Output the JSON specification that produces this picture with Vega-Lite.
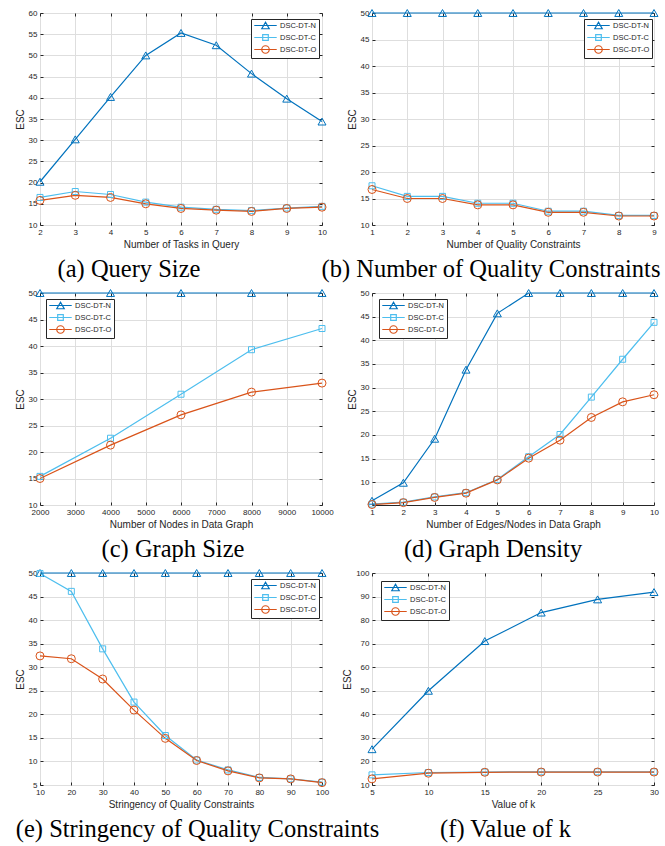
{
  "$schema": "https://vega.github.io/schema/vega-lite/v6.json",
  "padding": {"left": 14, "top": 7, "right": 5, "bottom": 2},
  "background": "white",
  "config": {
    "view": {"stroke": "#262626", "strokeWidth": 1},
    "font": "Liberation Sans",
    "axis": {"labelFont": "Liberation Sans", "labelFontSize": 8, "labelColor": "#262626", "titleFont": "Liberation Sans", "titleFontSize": 10, "titleFontWeight": "normal", "titleColor": "#262626", "gridColor": "#dedede", "gridWidth": 1, "domain": false, "tickColor": "#262626", "tickSize": -3, "labelPadding": 6, "titlePadding": 3, "labelFlush": false, "labelOverlap": false},
    "legend": {"orient": "none", "direction": "vertical", "labelFont": "Liberation Sans", "labelFontSize": 7.5, "labelColor": "#262626", "symbolSize": 56, "symbolStrokeWidth": 1, "rowPadding": 0, "padding": 2, "symbolOffset": 8, "labelOffset": 10},
    "title": {"orient": "bottom", "font": "Liberation Serif", "fontSize": 24.5, "fontWeight": "normal", "color": "#000000", "anchor": "middle", "offset": 9},
    "line": {"strokeWidth": 1.2},
    "point": {"filled": false, "size": 64, "strokeWidth": 1, "opacity": 1}
  },
  "columns": 2,
  "spacing": {"row": 68, "column": 50},
  "bounds": "flush",
  "resolve": {"scale": {"shape": "independent", "stroke": "independent"}, "legend": {"shape": "independent", "stroke": "independent"}},
  "concat": [
    {
      "width": 282, "height": 212,
      "title": {"text": "(a) Query Size", "dx": -52},
      "resolve": {"axis": {"x": "independent", "y": "independent"}},
      "data": {"values": [
        {"x": 2, "y": 20.2, "m": "DSC-DT-N"}, {"x": 3, "y": 30.2, "m": "DSC-DT-N"}, {"x": 4, "y": 40.2, "m": "DSC-DT-N"}, {"x": 5, "y": 50.0, "m": "DSC-DT-N"}, {"x": 6, "y": 55.3, "m": "DSC-DT-N"}, {"x": 7, "y": 52.4, "m": "DSC-DT-N"}, {"x": 8, "y": 45.7, "m": "DSC-DT-N"}, {"x": 9, "y": 39.8, "m": "DSC-DT-N"}, {"x": 10, "y": 34.4, "m": "DSC-DT-N"},
        {"x": 2, "y": 16.5, "m": "DSC-DT-C"}, {"x": 3, "y": 17.9, "m": "DSC-DT-C"}, {"x": 4, "y": 17.2, "m": "DSC-DT-C"}, {"x": 5, "y": 15.4, "m": "DSC-DT-C"}, {"x": 6, "y": 14.2, "m": "DSC-DT-C"}, {"x": 7, "y": 13.7, "m": "DSC-DT-C"}, {"x": 8, "y": 13.4, "m": "DSC-DT-C"}, {"x": 9, "y": 14.0, "m": "DSC-DT-C"}, {"x": 10, "y": 14.4, "m": "DSC-DT-C"},
        {"x": 2, "y": 15.8, "m": "DSC-DT-O"}, {"x": 3, "y": 17.0, "m": "DSC-DT-O"}, {"x": 4, "y": 16.5, "m": "DSC-DT-O"}, {"x": 5, "y": 15.0, "m": "DSC-DT-O"}, {"x": 6, "y": 13.9, "m": "DSC-DT-O"}, {"x": 7, "y": 13.5, "m": "DSC-DT-O"}, {"x": 8, "y": 13.2, "m": "DSC-DT-O"}, {"x": 9, "y": 13.9, "m": "DSC-DT-O"}, {"x": 10, "y": 14.2, "m": "DSC-DT-O"}
      ]},
      "encoding": {
        "x": {"field": "x", "type": "quantitative", "scale": {"domain": [2, 10], "nice": false}, "axis": {"values": [2, 3, 4, 5, 6, 7, 8, 9, 10], "title": "Number of Tasks in Query"}},
        "y": {"field": "y", "type": "quantitative", "scale": {"domain": [10, 60], "nice": false}, "axis": {"values": [10, 15, 20, 25, 30, 35, 40, 45, 50, 55, 60], "title": "ESC"}}
      },
      "layer": [
        {"mark": {"type": "line"}, "encoding": {"stroke": {"field": "m", "type": "nominal", "scale": {"domain": ["DSC-DT-N", "DSC-DT-C", "DSC-DT-O"], "range": ["#0072BD", "#4DBEEE", "#D95319"]}, "legend": {"title": null, "legendX": 211, "legendY": 6, "strokeColor": "#262626", "fillColor": "white", "rowPadding": 0}}}},
        {"transform": [{"filter": {"field": "m", "equal": "DSC-DT-N"}}], "mark": {"type": "point", "shape": "triangle-up", "color": "#0072BD"}, "encoding": {"x": {"field": "x", "type": "quantitative", "axis": null}, "y": {"field": "y", "type": "quantitative", "axis": null}}},
        {"transform": [{"filter": {"field": "m", "equal": "DSC-DT-C"}}], "mark": {"type": "point", "shape": "M-0.75,-0.75H0.75V0.75H-0.75Z", "color": "#4DBEEE"}, "encoding": {"x": {"field": "x", "type": "quantitative", "axis": null}, "y": {"field": "y", "type": "quantitative", "axis": null}}},
        {"transform": [{"filter": {"field": "m", "equal": "DSC-DT-O"}}], "mark": {"type": "point", "shape": "circle", "color": "#D95319"}, "encoding": {"x": {"field": "x", "type": "quantitative", "axis": null}, "y": {"field": "y", "type": "quantitative", "axis": null}}},
        {"data": {"values": []}, "mark": {"type": "point"}, "encoding": {
          "x": {"field": "x", "type": "quantitative", "axis": {"orient": "top", "labels": false, "title": null, "grid": false, "values": [2, 3, 4, 5, 6, 7, 8, 9, 10]}},
          "y": {"field": "y", "type": "quantitative", "axis": {"orient": "right", "labels": false, "title": null, "grid": false, "values": [10, 15, 20, 25, 30, 35, 40, 45, 50, 55, 60]}},
          "stroke": {"field": "m", "type": "nominal", "scale": {"domain": ["DSC-DT-N", "DSC-DT-C", "DSC-DT-O"], "range": ["#0072BD", "#4DBEEE", "#D95319"]}, "legend": {"title": null, "legendX": 211, "legendY": 6, "strokeColor": "#262626", "fillColor": "white", "rowPadding": 0}},
          "shape": {"field": "m", "type": "nominal", "scale": {"domain": ["DSC-DT-N", "DSC-DT-C", "DSC-DT-O"], "range": ["M-3,0H3M0,-0.87L-1,0.87L1,0.87Z", "M-3,0H3M-0.75,-0.75H0.75V0.75H-0.75Z", "M-3,0H3M1,0A1,1,0,1,1,-1,0A1,1,0,1,1,1,0Z"]}, "legend": {"title": null, "legendX": 211, "legendY": 6, "strokeColor": "#262626", "fillColor": "white", "rowPadding": 0}}
        }}
      ]
    },
    {
      "width": 282, "height": 212,
      "title": {"text": "(b) Number of Quality Constraints", "dx": -22},
      "resolve": {"axis": {"x": "independent", "y": "independent"}},
      "data": {"values": [
        {"x": 1, "y": 50, "m": "DSC-DT-N"}, {"x": 2, "y": 50, "m": "DSC-DT-N"}, {"x": 3, "y": 50, "m": "DSC-DT-N"}, {"x": 4, "y": 50, "m": "DSC-DT-N"}, {"x": 5, "y": 50, "m": "DSC-DT-N"}, {"x": 6, "y": 50, "m": "DSC-DT-N"}, {"x": 7, "y": 50, "m": "DSC-DT-N"}, {"x": 8, "y": 50, "m": "DSC-DT-N"}, {"x": 9, "y": 50, "m": "DSC-DT-N"},
        {"x": 1, "y": 17.4, "m": "DSC-DT-C"}, {"x": 2, "y": 15.4, "m": "DSC-DT-C"}, {"x": 3, "y": 15.4, "m": "DSC-DT-C"}, {"x": 4, "y": 14.1, "m": "DSC-DT-C"}, {"x": 5, "y": 14.1, "m": "DSC-DT-C"}, {"x": 6, "y": 12.6, "m": "DSC-DT-C"}, {"x": 7, "y": 12.6, "m": "DSC-DT-C"}, {"x": 8, "y": 11.8, "m": "DSC-DT-C"}, {"x": 9, "y": 11.8, "m": "DSC-DT-C"},
        {"x": 1, "y": 16.7, "m": "DSC-DT-O"}, {"x": 2, "y": 15.0, "m": "DSC-DT-O"}, {"x": 3, "y": 15.0, "m": "DSC-DT-O"}, {"x": 4, "y": 13.8, "m": "DSC-DT-O"}, {"x": 5, "y": 13.8, "m": "DSC-DT-O"}, {"x": 6, "y": 12.4, "m": "DSC-DT-O"}, {"x": 7, "y": 12.4, "m": "DSC-DT-O"}, {"x": 8, "y": 11.7, "m": "DSC-DT-O"}, {"x": 9, "y": 11.7, "m": "DSC-DT-O"}
      ]},
      "encoding": {
        "x": {"field": "x", "type": "quantitative", "scale": {"domain": [1, 9], "nice": false}, "axis": {"values": [1, 2, 3, 4, 5, 6, 7, 8, 9], "title": "Number of Quality Constraints"}},
        "y": {"field": "y", "type": "quantitative", "scale": {"domain": [10, 50], "nice": false}, "axis": {"values": [10, 15, 20, 25, 30, 35, 40, 45, 50], "title": "ESC"}}
      },
      "layer": [
        {"mark": {"type": "line"}, "encoding": {"stroke": {"field": "m", "type": "nominal", "scale": {"domain": ["DSC-DT-N", "DSC-DT-C", "DSC-DT-O"], "range": ["#0072BD", "#4DBEEE", "#D95319"]}, "legend": {"title": null, "legendX": 212, "legendY": 6, "strokeColor": "#262626", "fillColor": "white", "rowPadding": 0}}}},
        {"transform": [{"filter": {"field": "m", "equal": "DSC-DT-N"}}], "mark": {"type": "point", "shape": "triangle-up", "color": "#0072BD"}, "encoding": {"x": {"field": "x", "type": "quantitative", "axis": null}, "y": {"field": "y", "type": "quantitative", "axis": null}}},
        {"transform": [{"filter": {"field": "m", "equal": "DSC-DT-C"}}], "mark": {"type": "point", "shape": "M-0.75,-0.75H0.75V0.75H-0.75Z", "color": "#4DBEEE"}, "encoding": {"x": {"field": "x", "type": "quantitative", "axis": null}, "y": {"field": "y", "type": "quantitative", "axis": null}}},
        {"transform": [{"filter": {"field": "m", "equal": "DSC-DT-O"}}], "mark": {"type": "point", "shape": "circle", "color": "#D95319"}, "encoding": {"x": {"field": "x", "type": "quantitative", "axis": null}, "y": {"field": "y", "type": "quantitative", "axis": null}}},
        {"data": {"values": []}, "mark": {"type": "point"}, "encoding": {
          "x": {"field": "x", "type": "quantitative", "axis": {"orient": "top", "labels": false, "title": null, "grid": false, "values": [1, 2, 3, 4, 5, 6, 7, 8, 9]}},
          "y": {"field": "y", "type": "quantitative", "axis": {"orient": "right", "labels": false, "title": null, "grid": false, "values": [10, 15, 20, 25, 30, 35, 40, 45, 50]}},
          "stroke": {"field": "m", "type": "nominal", "scale": {"domain": ["DSC-DT-N", "DSC-DT-C", "DSC-DT-O"], "range": ["#0072BD", "#4DBEEE", "#D95319"]}, "legend": {"title": null, "legendX": 212, "legendY": 6, "strokeColor": "#262626", "fillColor": "white", "rowPadding": 0}},
          "shape": {"field": "m", "type": "nominal", "scale": {"domain": ["DSC-DT-N", "DSC-DT-C", "DSC-DT-O"], "range": ["M-3,0H3M0,-0.87L-1,0.87L1,0.87Z", "M-3,0H3M-0.75,-0.75H0.75V0.75H-0.75Z", "M-3,0H3M1,0A1,1,0,1,1,-1,0A1,1,0,1,1,1,0Z"]}, "legend": {"title": null, "legendX": 212, "legendY": 6, "strokeColor": "#262626", "fillColor": "white", "rowPadding": 0}}
        }}
      ]
    },
    {
      "width": 282, "height": 212,
      "title": {"text": "(c) Graph Size", "dx": -8},
      "resolve": {"axis": {"x": "independent", "y": "independent"}},
      "data": {"values": [
        {"x": 2000, "y": 50, "m": "DSC-DT-N"}, {"x": 4000, "y": 50, "m": "DSC-DT-N"}, {"x": 6000, "y": 50, "m": "DSC-DT-N"}, {"x": 8000, "y": 50, "m": "DSC-DT-N"}, {"x": 10000, "y": 50, "m": "DSC-DT-N"},
        {"x": 2000, "y": 15.4, "m": "DSC-DT-C"}, {"x": 4000, "y": 22.6, "m": "DSC-DT-C"}, {"x": 6000, "y": 30.9, "m": "DSC-DT-C"}, {"x": 8000, "y": 39.3, "m": "DSC-DT-C"}, {"x": 10000, "y": 43.3, "m": "DSC-DT-C"},
        {"x": 2000, "y": 15.0, "m": "DSC-DT-O"}, {"x": 4000, "y": 21.3, "m": "DSC-DT-O"}, {"x": 6000, "y": 27.0, "m": "DSC-DT-O"}, {"x": 8000, "y": 31.3, "m": "DSC-DT-O"}, {"x": 10000, "y": 33.0, "m": "DSC-DT-O"}
      ]},
      "encoding": {
        "x": {"field": "x", "type": "quantitative", "scale": {"domain": [2000, 10000], "nice": false}, "axis": {"values": [2000, 3000, 4000, 5000, 6000, 7000, 8000, 9000, 10000], "format": "d", "title": "Number of Nodes in Data Graph"}},
        "y": {"field": "y", "type": "quantitative", "scale": {"domain": [10, 50], "nice": false}, "axis": {"values": [10, 15, 20, 25, 30, 35, 40, 45, 50], "title": "ESC"}}
      },
      "layer": [
        {"mark": {"type": "line"}, "encoding": {"stroke": {"field": "m", "type": "nominal", "scale": {"domain": ["DSC-DT-N", "DSC-DT-C", "DSC-DT-O"], "range": ["#0072BD", "#4DBEEE", "#D95319"]}, "legend": {"title": null, "legendX": 6, "legendY": 6, "strokeColor": "#262626", "fillColor": "white", "rowPadding": 0}}}},
        {"transform": [{"filter": {"field": "m", "equal": "DSC-DT-N"}}], "mark": {"type": "point", "shape": "triangle-up", "color": "#0072BD"}, "encoding": {"x": {"field": "x", "type": "quantitative", "axis": null}, "y": {"field": "y", "type": "quantitative", "axis": null}}},
        {"transform": [{"filter": {"field": "m", "equal": "DSC-DT-C"}}], "mark": {"type": "point", "shape": "M-0.75,-0.75H0.75V0.75H-0.75Z", "color": "#4DBEEE"}, "encoding": {"x": {"field": "x", "type": "quantitative", "axis": null}, "y": {"field": "y", "type": "quantitative", "axis": null}}},
        {"transform": [{"filter": {"field": "m", "equal": "DSC-DT-O"}}], "mark": {"type": "point", "shape": "circle", "color": "#D95319"}, "encoding": {"x": {"field": "x", "type": "quantitative", "axis": null}, "y": {"field": "y", "type": "quantitative", "axis": null}}},
        {"data": {"values": []}, "mark": {"type": "point"}, "encoding": {
          "x": {"field": "x", "type": "quantitative", "axis": {"orient": "top", "labels": false, "title": null, "grid": false, "values": [2000, 3000, 4000, 5000, 6000, 7000, 8000, 9000, 10000]}},
          "y": {"field": "y", "type": "quantitative", "axis": {"orient": "right", "labels": false, "title": null, "grid": false, "values": [10, 15, 20, 25, 30, 35, 40, 45, 50]}},
          "stroke": {"field": "m", "type": "nominal", "scale": {"domain": ["DSC-DT-N", "DSC-DT-C", "DSC-DT-O"], "range": ["#0072BD", "#4DBEEE", "#D95319"]}, "legend": {"title": null, "legendX": 6, "legendY": 6, "strokeColor": "#262626", "fillColor": "white", "rowPadding": 0}},
          "shape": {"field": "m", "type": "nominal", "scale": {"domain": ["DSC-DT-N", "DSC-DT-C", "DSC-DT-O"], "range": ["M-3,0H3M0,-0.87L-1,0.87L1,0.87Z", "M-3,0H3M-0.75,-0.75H0.75V0.75H-0.75Z", "M-3,0H3M1,0A1,1,0,1,1,-1,0A1,1,0,1,1,1,0Z"]}, "legend": {"title": null, "legendX": 6, "legendY": 6, "strokeColor": "#262626", "fillColor": "white", "rowPadding": 0}}
        }}
      ]
    },
    {
      "width": 282, "height": 212,
      "title": {"text": "(d) Graph Density", "dx": -20},
      "resolve": {"axis": {"x": "independent", "y": "independent"}},
      "data": {"values": [
        {"x": 1, "y": 6.1, "m": "DSC-DT-N"}, {"x": 2, "y": 9.9, "m": "DSC-DT-N"}, {"x": 3, "y": 19.2, "m": "DSC-DT-N"}, {"x": 4, "y": 33.8, "m": "DSC-DT-N"}, {"x": 5, "y": 45.7, "m": "DSC-DT-N"}, {"x": 6, "y": 50, "m": "DSC-DT-N"}, {"x": 7, "y": 50, "m": "DSC-DT-N"}, {"x": 8, "y": 50, "m": "DSC-DT-N"}, {"x": 9, "y": 50, "m": "DSC-DT-N"}, {"x": 10, "y": 50, "m": "DSC-DT-N"},
        {"x": 1, "y": 5.4, "m": "DSC-DT-C"}, {"x": 2, "y": 5.8, "m": "DSC-DT-C"}, {"x": 3, "y": 6.9, "m": "DSC-DT-C"}, {"x": 4, "y": 7.8, "m": "DSC-DT-C"}, {"x": 5, "y": 10.6, "m": "DSC-DT-C"}, {"x": 6, "y": 15.4, "m": "DSC-DT-C"}, {"x": 7, "y": 20.1, "m": "DSC-DT-C"}, {"x": 8, "y": 28.0, "m": "DSC-DT-C"}, {"x": 9, "y": 36.0, "m": "DSC-DT-C"}, {"x": 10, "y": 43.8, "m": "DSC-DT-C"},
        {"x": 1, "y": 5.3, "m": "DSC-DT-O"}, {"x": 2, "y": 5.7, "m": "DSC-DT-O"}, {"x": 3, "y": 6.8, "m": "DSC-DT-O"}, {"x": 4, "y": 7.7, "m": "DSC-DT-O"}, {"x": 5, "y": 10.5, "m": "DSC-DT-O"}, {"x": 6, "y": 15.1, "m": "DSC-DT-O"}, {"x": 7, "y": 18.9, "m": "DSC-DT-O"}, {"x": 8, "y": 23.7, "m": "DSC-DT-O"}, {"x": 9, "y": 27.0, "m": "DSC-DT-O"}, {"x": 10, "y": 28.5, "m": "DSC-DT-O"}
      ]},
      "encoding": {
        "x": {"field": "x", "type": "quantitative", "scale": {"domain": [1, 10], "nice": false}, "axis": {"values": [1, 2, 3, 4, 5, 6, 7, 8, 9, 10], "title": "Number of Edges/Nodes in Data Graph"}},
        "y": {"field": "y", "type": "quantitative", "scale": {"domain": [5.2, 50], "nice": false, "zero": false}, "axis": {"values": [10, 15, 20, 25, 30, 35, 40, 45, 50], "title": "ESC"}}
      },
      "layer": [
        {"mark": {"type": "line"}, "encoding": {"stroke": {"field": "m", "type": "nominal", "scale": {"domain": ["DSC-DT-N", "DSC-DT-C", "DSC-DT-O"], "range": ["#0072BD", "#4DBEEE", "#D95319"]}, "legend": {"title": null, "legendX": 7, "legendY": 6, "strokeColor": "#262626", "fillColor": "white", "rowPadding": 0}}}},
        {"transform": [{"filter": {"field": "m", "equal": "DSC-DT-N"}}], "mark": {"type": "point", "shape": "triangle-up", "color": "#0072BD"}, "encoding": {"x": {"field": "x", "type": "quantitative", "axis": null}, "y": {"field": "y", "type": "quantitative", "axis": null}}},
        {"transform": [{"filter": {"field": "m", "equal": "DSC-DT-C"}}], "mark": {"type": "point", "shape": "M-0.75,-0.75H0.75V0.75H-0.75Z", "color": "#4DBEEE"}, "encoding": {"x": {"field": "x", "type": "quantitative", "axis": null}, "y": {"field": "y", "type": "quantitative", "axis": null}}},
        {"transform": [{"filter": {"field": "m", "equal": "DSC-DT-O"}}], "mark": {"type": "point", "shape": "circle", "color": "#D95319"}, "encoding": {"x": {"field": "x", "type": "quantitative", "axis": null}, "y": {"field": "y", "type": "quantitative", "axis": null}}},
        {"data": {"values": []}, "mark": {"type": "point"}, "encoding": {
          "x": {"field": "x", "type": "quantitative", "axis": {"orient": "top", "labels": false, "title": null, "grid": false, "values": [1, 2, 3, 4, 5, 6, 7, 8, 9, 10]}},
          "y": {"field": "y", "type": "quantitative", "axis": {"orient": "right", "labels": false, "title": null, "grid": false, "values": [10, 15, 20, 25, 30, 35, 40, 45, 50]}},
          "stroke": {"field": "m", "type": "nominal", "scale": {"domain": ["DSC-DT-N", "DSC-DT-C", "DSC-DT-O"], "range": ["#0072BD", "#4DBEEE", "#D95319"]}, "legend": {"title": null, "legendX": 7, "legendY": 6, "strokeColor": "#262626", "fillColor": "white", "rowPadding": 0}},
          "shape": {"field": "m", "type": "nominal", "scale": {"domain": ["DSC-DT-N", "DSC-DT-C", "DSC-DT-O"], "range": ["M-3,0H3M0,-0.87L-1,0.87L1,0.87Z", "M-3,0H3M-0.75,-0.75H0.75V0.75H-0.75Z", "M-3,0H3M1,0A1,1,0,1,1,-1,0A1,1,0,1,1,1,0Z"]}, "legend": {"title": null, "legendX": 7, "legendY": 6, "strokeColor": "#262626", "fillColor": "white", "rowPadding": 0}}
        }}
      ]
    },
    {
      "width": 282, "height": 212,
      "title": {"text": "(e) Stringency of Quality Constraints", "dx": 16.5},
      "resolve": {"axis": {"x": "independent", "y": "independent"}},
      "data": {"values": [
        {"x": 10, "y": 50, "m": "DSC-DT-N"}, {"x": 20, "y": 50, "m": "DSC-DT-N"}, {"x": 30, "y": 50, "m": "DSC-DT-N"}, {"x": 40, "y": 50, "m": "DSC-DT-N"}, {"x": 50, "y": 50, "m": "DSC-DT-N"}, {"x": 60, "y": 50, "m": "DSC-DT-N"}, {"x": 70, "y": 50, "m": "DSC-DT-N"}, {"x": 80, "y": 50, "m": "DSC-DT-N"}, {"x": 90, "y": 50, "m": "DSC-DT-N"}, {"x": 100, "y": 50, "m": "DSC-DT-N"},
        {"x": 10, "y": 49.9, "m": "DSC-DT-C"}, {"x": 20, "y": 46.1, "m": "DSC-DT-C"}, {"x": 30, "y": 33.9, "m": "DSC-DT-C"}, {"x": 40, "y": 22.6, "m": "DSC-DT-C"}, {"x": 50, "y": 15.5, "m": "DSC-DT-C"}, {"x": 60, "y": 10.3, "m": "DSC-DT-C"}, {"x": 70, "y": 8.2, "m": "DSC-DT-C"}, {"x": 80, "y": 6.6, "m": "DSC-DT-C"}, {"x": 90, "y": 6.3, "m": "DSC-DT-C"}, {"x": 100, "y": 5.6, "m": "DSC-DT-C"},
        {"x": 10, "y": 32.4, "m": "DSC-DT-O"}, {"x": 20, "y": 31.8, "m": "DSC-DT-O"}, {"x": 30, "y": 27.5, "m": "DSC-DT-O"}, {"x": 40, "y": 20.9, "m": "DSC-DT-O"}, {"x": 50, "y": 14.9, "m": "DSC-DT-O"}, {"x": 60, "y": 10.2, "m": "DSC-DT-O"}, {"x": 70, "y": 8.0, "m": "DSC-DT-O"}, {"x": 80, "y": 6.5, "m": "DSC-DT-O"}, {"x": 90, "y": 6.3, "m": "DSC-DT-O"}, {"x": 100, "y": 5.5, "m": "DSC-DT-O"}
      ]},
      "encoding": {
        "x": {"field": "x", "type": "quantitative", "scale": {"domain": [10, 100], "nice": false}, "axis": {"values": [10, 20, 30, 40, 50, 60, 70, 80, 90, 100], "title": "Stringency of Quality Constraints"}},
        "y": {"field": "y", "type": "quantitative", "scale": {"domain": [5, 50], "nice": false, "zero": false}, "axis": {"values": [5, 10, 15, 20, 25, 30, 35, 40, 45, 50], "title": "ESC"}}
      },
      "layer": [
        {"mark": {"type": "line"}, "encoding": {"stroke": {"field": "m", "type": "nominal", "scale": {"domain": ["DSC-DT-N", "DSC-DT-C", "DSC-DT-O"], "range": ["#0072BD", "#4DBEEE", "#D95319"]}, "legend": {"title": null, "legendX": 211, "legendY": 6, "strokeColor": "#262626", "fillColor": "white", "rowPadding": 0}}}},
        {"transform": [{"filter": {"field": "m", "equal": "DSC-DT-N"}}], "mark": {"type": "point", "shape": "triangle-up", "color": "#0072BD"}, "encoding": {"x": {"field": "x", "type": "quantitative", "axis": null}, "y": {"field": "y", "type": "quantitative", "axis": null}}},
        {"transform": [{"filter": {"field": "m", "equal": "DSC-DT-C"}}], "mark": {"type": "point", "shape": "M-0.75,-0.75H0.75V0.75H-0.75Z", "color": "#4DBEEE"}, "encoding": {"x": {"field": "x", "type": "quantitative", "axis": null}, "y": {"field": "y", "type": "quantitative", "axis": null}}},
        {"transform": [{"filter": {"field": "m", "equal": "DSC-DT-O"}}], "mark": {"type": "point", "shape": "circle", "color": "#D95319"}, "encoding": {"x": {"field": "x", "type": "quantitative", "axis": null}, "y": {"field": "y", "type": "quantitative", "axis": null}}},
        {"data": {"values": []}, "mark": {"type": "point"}, "encoding": {
          "x": {"field": "x", "type": "quantitative", "axis": {"orient": "top", "labels": false, "title": null, "grid": false, "values": [10, 20, 30, 40, 50, 60, 70, 80, 90, 100]}},
          "y": {"field": "y", "type": "quantitative", "axis": {"orient": "right", "labels": false, "title": null, "grid": false, "values": [5, 10, 15, 20, 25, 30, 35, 40, 45, 50]}},
          "stroke": {"field": "m", "type": "nominal", "scale": {"domain": ["DSC-DT-N", "DSC-DT-C", "DSC-DT-O"], "range": ["#0072BD", "#4DBEEE", "#D95319"]}, "legend": {"title": null, "legendX": 211, "legendY": 6, "strokeColor": "#262626", "fillColor": "white", "rowPadding": 0}},
          "shape": {"field": "m", "type": "nominal", "scale": {"domain": ["DSC-DT-N", "DSC-DT-C", "DSC-DT-O"], "range": ["M-3,0H3M0,-0.87L-1,0.87L1,0.87Z", "M-3,0H3M-0.75,-0.75H0.75V0.75H-0.75Z", "M-3,0H3M1,0A1,1,0,1,1,-1,0A1,1,0,1,1,1,0Z"]}, "legend": {"title": null, "legendX": 211, "legendY": 6, "strokeColor": "#262626", "fillColor": "white", "rowPadding": 0}}
        }}
      ]
    },
    {
      "width": 282, "height": 212,
      "title": {"text": "(f) Value of k", "dx": -7.5},
      "resolve": {"axis": {"x": "independent", "y": "independent"}},
      "data": {"values": [
        {"x": 5, "y": 25.2, "m": "DSC-DT-N"}, {"x": 10, "y": 50.0, "m": "DSC-DT-N"}, {"x": 15, "y": 71.1, "m": "DSC-DT-N"}, {"x": 20, "y": 83.2, "m": "DSC-DT-N"}, {"x": 25, "y": 88.8, "m": "DSC-DT-N"}, {"x": 30, "y": 91.9, "m": "DSC-DT-N"},
        {"x": 5, "y": 14.3, "m": "DSC-DT-C"}, {"x": 10, "y": 15.3, "m": "DSC-DT-C"}, {"x": 15, "y": 15.5, "m": "DSC-DT-C"}, {"x": 20, "y": 15.6, "m": "DSC-DT-C"}, {"x": 25, "y": 15.6, "m": "DSC-DT-C"}, {"x": 30, "y": 15.6, "m": "DSC-DT-C"},
        {"x": 5, "y": 12.6, "m": "DSC-DT-O"}, {"x": 10, "y": 15.0, "m": "DSC-DT-O"}, {"x": 15, "y": 15.4, "m": "DSC-DT-O"}, {"x": 20, "y": 15.5, "m": "DSC-DT-O"}, {"x": 25, "y": 15.5, "m": "DSC-DT-O"}, {"x": 30, "y": 15.5, "m": "DSC-DT-O"}
      ]},
      "encoding": {
        "x": {"field": "x", "type": "quantitative", "scale": {"domain": [5, 30], "nice": false}, "axis": {"values": [5, 10, 15, 20, 25, 30], "title": "Value of k"}},
        "y": {"field": "y", "type": "quantitative", "scale": {"domain": [10, 100], "nice": false, "zero": false}, "axis": {"values": [10, 20, 30, 40, 50, 60, 70, 80, 90, 100], "title": "ESC"}}
      },
      "layer": [
        {"mark": {"type": "line"}, "encoding": {"stroke": {"field": "m", "type": "nominal", "scale": {"domain": ["DSC-DT-N", "DSC-DT-C", "DSC-DT-O"], "range": ["#0072BD", "#4DBEEE", "#D95319"]}, "legend": {"title": null, "legendX": 9, "legendY": 8, "strokeColor": "#262626", "fillColor": "white", "rowPadding": 0}}}},
        {"transform": [{"filter": {"field": "m", "equal": "DSC-DT-N"}}], "mark": {"type": "point", "shape": "triangle-up", "color": "#0072BD"}, "encoding": {"x": {"field": "x", "type": "quantitative", "axis": null}, "y": {"field": "y", "type": "quantitative", "axis": null}}},
        {"transform": [{"filter": {"field": "m", "equal": "DSC-DT-C"}}], "mark": {"type": "point", "shape": "M-0.75,-0.75H0.75V0.75H-0.75Z", "color": "#4DBEEE"}, "encoding": {"x": {"field": "x", "type": "quantitative", "axis": null}, "y": {"field": "y", "type": "quantitative", "axis": null}}},
        {"transform": [{"filter": {"field": "m", "equal": "DSC-DT-O"}}], "mark": {"type": "point", "shape": "circle", "color": "#D95319"}, "encoding": {"x": {"field": "x", "type": "quantitative", "axis": null}, "y": {"field": "y", "type": "quantitative", "axis": null}}},
        {"data": {"values": []}, "mark": {"type": "point"}, "encoding": {
          "x": {"field": "x", "type": "quantitative", "axis": {"orient": "top", "labels": false, "title": null, "grid": false, "values": [5, 10, 15, 20, 25, 30]}},
          "y": {"field": "y", "type": "quantitative", "axis": {"orient": "right", "labels": false, "title": null, "grid": false, "values": [10, 20, 30, 40, 50, 60, 70, 80, 90, 100]}},
          "stroke": {"field": "m", "type": "nominal", "scale": {"domain": ["DSC-DT-N", "DSC-DT-C", "DSC-DT-O"], "range": ["#0072BD", "#4DBEEE", "#D95319"]}, "legend": {"title": null, "legendX": 9, "legendY": 8, "strokeColor": "#262626", "fillColor": "white", "rowPadding": 0}},
          "shape": {"field": "m", "type": "nominal", "scale": {"domain": ["DSC-DT-N", "DSC-DT-C", "DSC-DT-O"], "range": ["M-3,0H3M0,-0.87L-1,0.87L1,0.87Z", "M-3,0H3M-0.75,-0.75H0.75V0.75H-0.75Z", "M-3,0H3M1,0A1,1,0,1,1,-1,0A1,1,0,1,1,1,0Z"]}, "legend": {"title": null, "legendX": 9, "legendY": 8, "strokeColor": "#262626", "fillColor": "white", "rowPadding": 0}}
        }}
      ]
    }
  ]
}
